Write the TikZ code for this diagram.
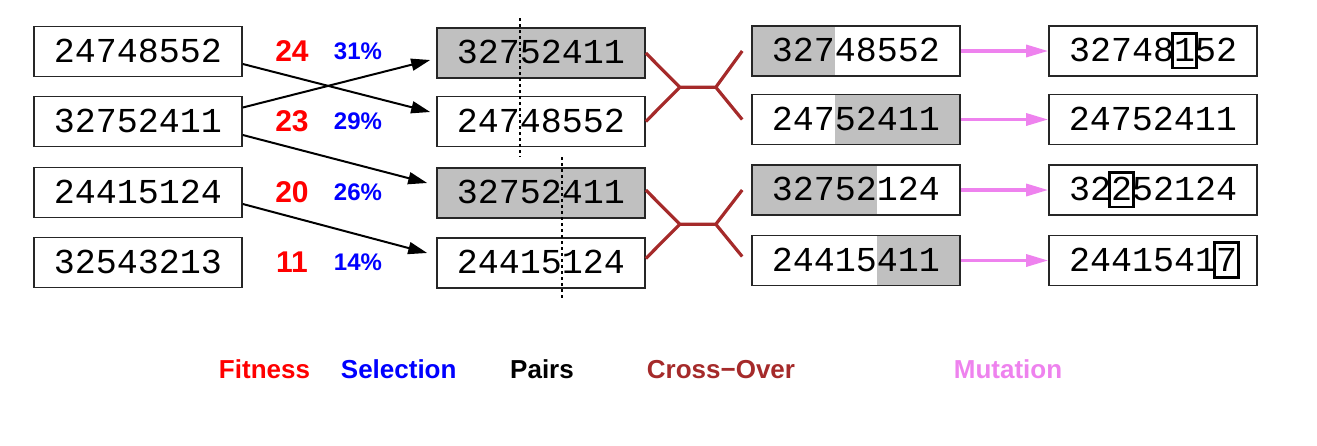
\documentclass[tikz,border=0pt]{standalone}
\usepackage{fontspec}
\newfontfamily\monofnt{Liberation Mono}
\newfontfamily\sansfnt{Liberation Sans}
\usetikzlibrary{arrows.meta,calc}
\definecolor{cellgray}{RGB}{192,192,192}
\definecolor{crossbrown}{RGB}{165,42,42}
\definecolor{mutviolet}{RGB}{238,130,238}
% framed digit that keeps the width of one character
\newcommand{\mutdigit}[1]{\makebox[10.5pt]{\setlength{\fboxrule}{1.3pt}\setlength{\fboxsep}{0pt}\smash{\fbox{\rule[-2.35pt]{0pt}{16.05pt}#1}}}}

\begin{document}
\begin{tikzpicture}[x=0.5pt,y=-0.5pt,
    chrom/.style={draw=black!85, line width=0.8pt, minimum width=104pt, minimum height=25pt, inner sep=0pt,
      text height=10.9pt, text depth=0pt, font=\monofnt\fontsize{17.5}{17.5}\selectfont},
    chosen/.style={chrom, fill=cellgray},
    headgray/.style={path picture={\fill[cellgray] (path picture bounding box.south west) rectangle ([xshift=#1]path picture bounding box.north);}},
    tailgray/.style={path picture={\fill[cellgray] ([xshift=#1]path picture bounding box.south) rectangle (path picture bounding box.north east);}},
    fitlbl/.style={text=red, font=\sansfnt\bfseries\fontsize{15}{15}\selectfont},
    sellbl/.style={text=blue, font=\sansfnt\bfseries\fontsize{12}{12}\selectfont},
    steplbl/.style={anchor=base, font=\sansfnt\bfseries\fontsize{13}{13}\selectfont},
    sel/.style={-{Triangle[length=9.5pt,width=6pt]}, line width=1pt},
    cross/.style={crossbrown, line width=1.6pt},
    mut/.style={mutviolet, line width=1.6pt, -{Triangle[length=11pt,width=6pt]}},
    cutline/.style={line width=0.6pt, dash pattern=on 1.5pt off 1.5pt}]
    \useasboundingbox (0,0) rectangle (1317,445);

    % population
    \node[chrom] (c1) at (138,51.5) {24748552};
    \node[chrom] (c2) at (138,121.5) {32752411};
    \node[chrom] (c3) at (138,192.5) {24415124};
    \node[chrom] (c4) at (138,262.5) {32543213};
    \foreach \f/\s [count=\i] in {24/31,23/29,20/26,11/14} {
        \node[fitlbl] (f\i) at (292,0 |- c\i) {\f};
        \node[sellbl] (s\i) at (358,0 |- c\i) {\s\%};
    }

    % pairs
    \node[chosen] (p1) at (541,53) {32752411};
    \node[chrom] (p2) at (541,121.5) {24748552};
    \node[chosen] (p3) at (541,193) {32752411};
    \node[chrom] (p4) at (541,263) {24415124};
    \draw[sel] ([yshift=-6.25pt]c1.east) -- ([xshift=-3pt,yshift=4.75pt]p2.west);
    \draw[sel] ([yshift=7pt]c2.east) -- ([xshift=-3pt,yshift=-3.5pt]p1.west);
    \draw[sel] ([yshift=-6.75pt]c2.east) -- ([xshift=-4.5pt,yshift=5pt]p3.west);
    \draw[sel] ([yshift=-5.75pt]c3.east) -- ([xshift=-4.5pt,yshift=5pt]p4.west);
    \draw[cutline] ([xshift=-10.5pt,yshift=4.5pt]p1.north) -- ([xshift=-10.5pt,yshift=-5pt]p2.south);
    \draw[cutline] ([xshift=10.5pt,yshift=5pt]p3.north) -- ([xshift=10.5pt,yshift=-5pt]p4.south);

    % offspring
    \node[chrom,headgray=-10.5pt] (x1) at (856,51) {32748552};
    \node[chrom,tailgray=-10.5pt] (x2) at (856,119.5) {24752411};
    \node[chrom,headgray=10.5pt] (x3) at (856,190) {32752124};
    \node[chrom,tailgray=10.5pt] (x4) at (856,260.5) {24415411};
    \coordinate (j1) at ($(p1.east)!.5!(p2.east)+(34,0)$);
    \coordinate (k1) at ($(j1)+(36,0)$);
    \draw[cross] (p1.east) -- (j1) -- (p2.east) (j1) -- (k1)
        ([xshift=-4.5pt]x1.west) -- (k1) -- ([xshift=-4.5pt]x2.west);
    \coordinate (j2) at ($([yshift=1.5pt]p3.east)!.5!([yshift=2.25pt]p4.east)+(34,0)$);
    \coordinate (k2) at ($(j2)+(36,0)$);
    \draw[cross] ([yshift=1.5pt]p3.east) -- (j2) -- ([yshift=2.25pt]p4.east) (j2) -- (k2)
        ([xshift=-4.5pt]x3.west) -- (k2) -- ([xshift=-4.5pt,yshift=2pt]x4.west);

    % mutated
    \node[chrom] (m1) at (1153,51) {32748\mutdigit{1}52};
    \node[chrom] (m2) at (1153,119.5) {24752411};
    \node[chrom] (m3) at (1153,190) {32\mutdigit{2}52124};
    \node[chrom] (m4) at (1153,260.5) {2441541\mutdigit{7}};
    \draw[mut] (x1.east) -- (m1.west);
    \draw[mut] (x2.east) -- (m2.west);
    \draw[mut] (x3.east) -- (m3.west);
    \draw[mut] (x4.east) -- (m4.west);

    % step names
    \node[steplbl,text=red] (fitness) at (264.5,378) {Fitness};
    \node[steplbl,text=blue] (selection) at (398.7,378) {Selection};
    \node[steplbl,text=black] (pairs) at (542,378) {Pairs};
    \node[steplbl,text=crossbrown] (crossover) at (721,378) {Cross−Over};
    \node[steplbl,text=mutviolet] (mutation) at (1008,378) {Mutation};
\end{tikzpicture}
\end{document}
